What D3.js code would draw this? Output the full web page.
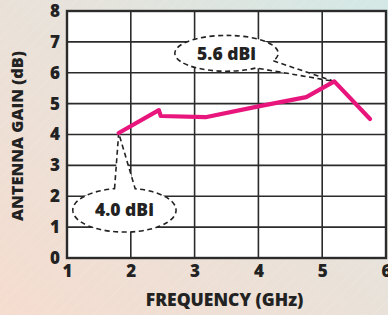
<!DOCTYPE html>
<html>
<head>
<meta charset="utf-8">
<script src="https://cdn.jsdelivr.net/npm/d3@7"></script>
<style>
  html, body { margin: 0; padding: 0; }
  svg { display: block; }
  svg text { font-family: "Open Sans", Lato, sans-serif; font-weight: 800; }
</style>
</head>
<body>
<div id="chart"></div>
<script>
// frequency (GHz) vs gain (dB)
const freq = [1.81, 2.44, 2.47, 3.17, 4.02, 4.75, 5.19, 5.75]
const gain = [4.05, 4.79, 4.6, 4.56, 4.92, 5.21, 5.72, 4.5]
const xTicks = [1, 2, 3, 4, 5, 6]
const yTicks = [0, 1, 2, 3, 4, 5, 6, 7, 8]
const callouts = [
  {label: "5.6 dBi", cx: 3.5, cy: 6.63, rx: 0.81, ry: 0.58, tip: 6, a1: 25, a2: 55},
  {label: "4.0 dBi", cx: 1.9, cy: 1.55, rx: 0.81, ry: 0.71, tip: 0, a1: -101, a2: -78}
]

const W = 388, H = 315
const margin = {top: 11, right: 1, bottom: 57, left: 67}
const width = W - margin.left - margin.right
const height = H - margin.top - margin.bottom

const x = d3.scaleLinear().domain([1, 6]).range([0, width - 1])
const y = d3.scaleLinear().domain([0, 8]).range([height, 0])

const svg = d3.select("#chart").append("svg").attr("width", W).attr("height", H)

// background: peach -> pale teal, with faint diagonal hatching
const defs = svg.append("defs")
const grad = defs.append("linearGradient").attr("id", "bg")
  .attr("x1", "0").attr("y1", "1").attr("x2", "1").attr("y2", "0")
grad.append("stop").attr("offset", "0").attr("stop-color", "#f5dccf")
grad.append("stop").attr("offset", "0.55").attr("stop-color", "#e8e2da")
grad.append("stop").attr("offset", "1").attr("stop-color", "#d3e8e6")
const hatch = defs.append("pattern").attr("id", "hatch")
  .attr("width", 9).attr("height", 9).attr("patternUnits", "userSpaceOnUse")
  .attr("patternTransform", "rotate(45)")
hatch.append("line").attr("x1", 0).attr("y1", 0).attr("x2", 0).attr("y2", 9)
  .attr("stroke", "#fff").attr("stroke-opacity", 0.18).attr("stroke-width", 1)

svg.append("rect").attr("width", W).attr("height", H).attr("fill", "url(#bg)")
svg.append("rect").attr("width", W).attr("height", H).attr("fill", "url(#hatch)")

const g = svg.append("g").attr("transform", `translate(${margin.left},${margin.top})`)

g.append("rect").attr("width", x(6)).attr("height", height).attr("fill", "#fff")

// grid
g.append("g").selectAll("line").data(xTicks.slice(1, -1)).join("line")
  .attr("x1", d => x(d)).attr("x2", d => x(d)).attr("y1", 0).attr("y2", height)
  .attr("stroke", "#2b2b2b").attr("stroke-width", 1.6)
g.append("g").selectAll("line").data(yTicks.slice(1, -1)).join("line")
  .attr("x1", 0).attr("x2", x(6)).attr("y1", d => y(d)).attr("y2", d => y(d))
  .attr("stroke", "#2b2b2b").attr("stroke-width", 1.6)

g.append("rect").attr("width", x(6)).attr("height", height)
  .attr("fill", "none").attr("stroke", "#2b2b2b").attr("stroke-width", 2.4)

// callout bubbles
callouts.forEach(c => {
  const cx = x(c.cx), cy = y(c.cy)
  const rx = x(c.cx + c.rx) - cx, ry = cy - y(c.cy + c.ry)
  const pt = a => [cx + rx * Math.cos(a * Math.PI / 180), cy + ry * Math.sin(a * Math.PI / 180)]
  const p1 = pt(c.a1), p2 = pt(c.a2)
  const tx = x(freq[c.tip]), ty = y(gain[c.tip])
  g.append("path")
    .attr("d", `M${p1}L${tx},${ty}L${p2}A${rx},${ry} 0 1 1 ${p1}Z`)
    .attr("fill", "#fff").attr("stroke", "#222").attr("stroke-width", 1.6)
    .attr("stroke-dasharray", "5,3.5")
  g.append("text").attr("x", cx).attr("y", cy).attr("dy", "0.36em")
    .attr("text-anchor", "middle").attr("font-size", 17.5).attr("fill", "#222")
    .text(c.label)
})

// gain curve
const line = d3.line().x((d, i) => x(freq[i])).y(d => y(d))
g.append("path").datum(gain).attr("d", line)
  .attr("fill", "none").attr("stroke", "#e8167c").attr("stroke-width", 4.2)
  .attr("stroke-linejoin", "round").attr("stroke-linecap", "round")

// axes labels
g.append("g").attr("transform", `translate(0,${height})`)
  .call(d3.axisBottom(x).tickValues(xTicks).tickFormat(d3.format("d")).tickSize(0).tickPadding(7))
  .attr("font-family", null).attr("font-size", 17)
  .call(a => a.select(".domain").remove())
  .selectAll("text").attr("fill", "#222")

g.append("g")
  .call(d3.axisLeft(y).tickValues(yTicks).tickFormat(d3.format("d")).tickSize(0).tickPadding(7))
  .attr("font-family", null).attr("font-size", 17)
  .call(a => a.select(".domain").remove())
  .selectAll("text").attr("fill", "#222")

svg.append("text")
  .attr("x", margin.left + x(3.47)).attr("y", 306)
  .attr("text-anchor", "middle").attr("font-size", 17.5).attr("fill", "#222")
  .text("FREQUENCY (GHz)")

svg.append("text")
  .attr("transform", `translate(23,${margin.top + y(3.95)}) rotate(-90)`)
  .attr("text-anchor", "middle").attr("font-size", 16.5).attr("fill", "#222")
  .text("ANTENNA GAIN (dB)")
</script>
</body>
</html>
